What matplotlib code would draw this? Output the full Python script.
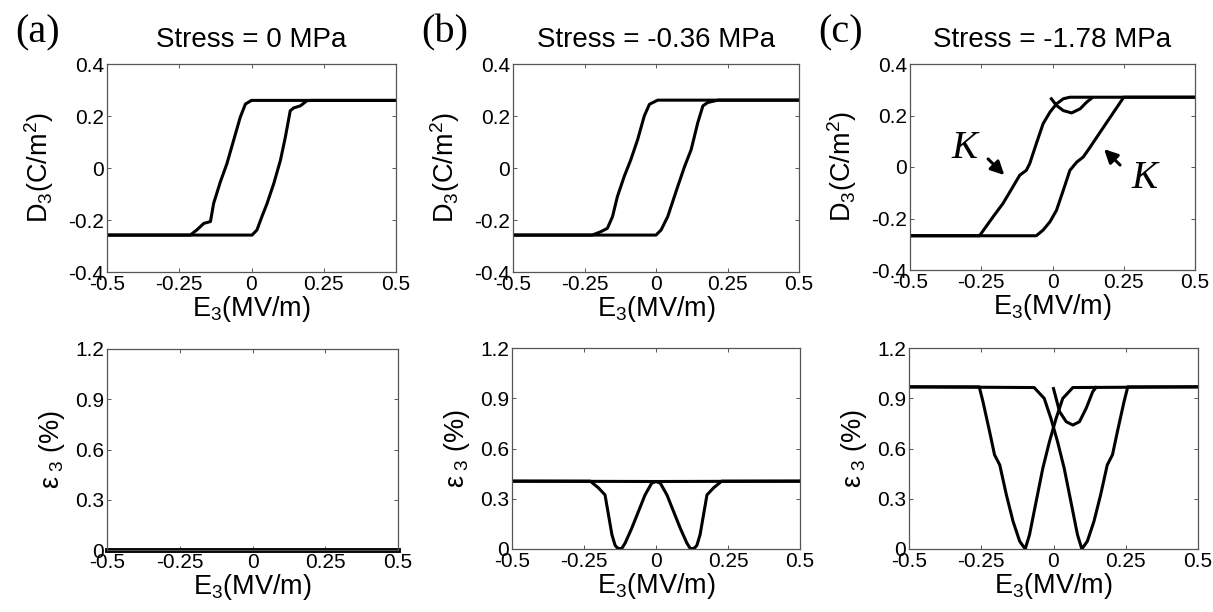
import matplotlib
matplotlib.use("Agg")
import matplotlib.pyplot as plt

plt.rcParams['font.family'] = ['Liberation Sans', 'DejaVu Sans']
plt.rcParams['mathtext.fontset'] = 'custom'
plt.rcParams['mathtext.rm'] = 'Liberation Sans'
plt.rcParams['mathtext.it'] = 'Liberation Sans:italic'

# ---------------- data ----------------
titles = ['Stress = 0 MPa', 'Stress = -0.36 MPa', 'Stress = -1.78 MPa']
panel_labels = ['(a)', '(b)', '(c)']
x_ticks = [-0.5, -0.25, 0, 0.25, 0.5]
x_tick_labels = ['-0.5', '-0.25', '0', '0.25', '0.5']
d_ticks = [-0.4, -0.2, 0, 0.2, 0.4]
d_tick_labels = ['-0.4', '-0.2', '0', '0.2', '0.4']
s_ticks = [0, 0.3, 0.6, 0.9, 1.2]
s_tick_labels = ['0', '0.3', '0.6', '0.9', '1.2']

# (a) D-E loop
a_desc_E = [0.5, 0.0, -0.021, -0.039, -0.062, -0.085, -0.108, -0.131, -0.142, -0.165, -0.189, -0.212, -0.5]
a_desc_D = [0.26, 0.26, 0.246, 0.195, 0.106, 0.017, -0.054, -0.136, -0.206, -0.213, -0.238, -0.258, -0.258]
a_asc_E = [-0.5, 0.002, 0.019, 0.036, 0.054, 0.077, 0.100, 0.117, 0.134, 0.146, 0.169, 0.192, 0.209, 0.5]
a_asc_D = [-0.258, -0.258, -0.238, -0.187, -0.136, -0.060, 0.029, 0.118, 0.220, 0.231, 0.239, 0.259, 0.26, 0.26]
# (a) strain
a_strain_E = [-0.5, 0.5]
a_strain_S = [0.0, 0.0]

# (b) D-E loop
b_desc_E = [0.5, 0.006, -0.023, -0.041, -0.064, -0.088, -0.111, -0.135, -0.152, -0.170, -0.193, -0.223, -0.5]
b_desc_D = [0.261, 0.261, 0.245, 0.200, 0.110, 0.032, -0.032, -0.110, -0.187, -0.232, -0.245, -0.258, -0.258]
b_asc_E = [-0.5, 0.0, 0.018, 0.041, 0.076, 0.100, 0.123, 0.146, 0.164, 0.181, 0.217, 0.5]
b_asc_D = [-0.258, -0.258, -0.238, -0.187, -0.071, 0.006, 0.071, 0.174, 0.239, 0.252, 0.261, 0.261]
# (b) strain
b_desc_SE = [0.5, 0.0, -0.015, -0.038, -0.061, -0.084, -0.107, -0.117, -0.125, -0.135, -0.142, -0.153, -0.165, -0.177, -0.200, -0.228, -0.5]
b_desc_S = [0.405, 0.403, 0.393, 0.323, 0.224, 0.125, 0.036, 0.008, 0.0, 0.008, 0.022, 0.085, 0.204, 0.323, 0.365, 0.405, 0.405]
b_asc_SE = [-0.5, 0.0, 0.015, 0.038, 0.061, 0.084, 0.107, 0.117, 0.125, 0.135, 0.142, 0.153, 0.165, 0.177, 0.200, 0.228, 0.5]
b_asc_S = [0.405, 0.403, 0.393, 0.323, 0.224, 0.125, 0.036, 0.008, 0.0, 0.008, 0.022, 0.085, 0.204, 0.323, 0.365, 0.405, 0.405]

# (c) D-E loop
c_desc_E = [0.5, 0.061, 0.038, 0.014, -0.009, -0.033, -0.057, -0.080, -0.092, -0.115, -0.139, -0.174, -0.209, -0.256, -0.5]
c_desc_D = [0.271, 0.271, 0.265, 0.245, 0.213, 0.168, 0.090, 0.013, -0.013, -0.032, -0.077, -0.142, -0.194, -0.267, -0.267]
c_asc_E = [-0.5, -0.057, -0.033, -0.009, 0.014, 0.038, 0.061, 0.085, 0.108, 0.132, 0.167, 0.203, 0.250, 0.5]
c_asc_D = [-0.267, -0.267, -0.245, -0.213, -0.168, -0.090, -0.013, 0.019, 0.039, 0.077, 0.135, 0.194, 0.271, 0.271]
c_init_E = [-0.004, 0.014, 0.038, 0.067, 0.097, 0.120, 0.138]
c_init_D = [0.265, 0.239, 0.219, 0.210, 0.226, 0.252, 0.268]
# (c) strain
c_desc_SE = [0.5, 0.067, 0.032, 0.009, -0.014, -0.037, -0.060, -0.083, -0.098, -0.117, -0.140, -0.163, -0.186, -0.204, -0.221, -0.244, -0.257, -0.5]
c_desc_S = [0.968, 0.964, 0.899, 0.780, 0.641, 0.482, 0.284, 0.085, 0.0, 0.046, 0.165, 0.323, 0.502, 0.562, 0.700, 0.879, 0.968, 0.968]
c_asc_SE = [-0.5, -0.067, -0.032, -0.009, 0.014, 0.037, 0.060, 0.083, 0.098, 0.117, 0.140, 0.163, 0.186, 0.204, 0.221, 0.244, 0.257, 0.5]
c_asc_S = [0.968, 0.964, 0.899, 0.780, 0.641, 0.482, 0.284, 0.085, 0.0, 0.046, 0.165, 0.323, 0.502, 0.562, 0.700, 0.879, 0.968, 0.968]
c_init_SE = [0.0, 0.021, 0.044, 0.067, 0.090, 0.113, 0.136, 0.147]
c_init_S = [0.958, 0.820, 0.760, 0.740, 0.760, 0.840, 0.940, 0.964]

# ---------------- layout ----------------
W, H = 1213, 612
fig = plt.figure(figsize=(W / 100, H / 100), dpi=100)

top_boxes = [(107, 396, 64, 272), (513, 799, 64, 272), (910, 1195, 64, 270)]
bot_boxes = [(107, 398, 349, 550), (512, 800, 348, 549), (909, 1198, 348, 549)]

def make_ax(box):
    l, r, t, b = box
    return fig.add_axes([l / W, 1 - b / H, (r - l) / W, (b - t) / H])

def style(ax, yticks, ylabels, ylim):
    ax.set_xlim(-0.5, 0.5)
    ax.set_ylim(*ylim)
    ax.set_xticks(x_ticks)
    ax.set_xticklabels(x_tick_labels)
    ax.set_yticks(yticks)
    ax.set_yticklabels(ylabels)
    ax.tick_params(direction='in', top=True, right=True, length=3, width=0.7,
                   labelsize=15, color='#555555', pad=2)
    for sp in ax.spines.values():
        sp.set_color('#555555')
        sp.set_linewidth(0.9)
    ax.set_xlabel(r'E$_3$(MV/m)', fontsize=19.5, labelpad=0)

lw = 2.2
col = 'black'

top_axes = [make_ax(b) for b in top_boxes]
bot_axes = [make_ax(b) for b in bot_boxes]

# top row
top_data = [
    [(a_desc_E, a_desc_D), (a_asc_E, a_asc_D)],
    [(b_desc_E, b_desc_D), (b_asc_E, b_asc_D)],
    [(c_desc_E, c_desc_D), (c_asc_E, c_asc_D), (c_init_E, c_init_D)],
]
for i, ax in enumerate(top_axes):
    for xs, ys in top_data[i]:
        ax.plot(xs, ys, color=col, lw=lw, solid_joinstyle='round')
    style(ax, d_ticks, d_tick_labels, (-0.4, 0.4))
    ax.set_ylabel(r'D$_3$(C/m$^2$)', fontsize=19.5, labelpad=9)
    ax.set_title(titles[i], fontsize=20, pad=12)
    l, r, t, b = top_boxes[i]
    fig.text((l - 92) / W, 1 - 33 / H, panel_labels[i], fontsize=29,
             family='Liberation Serif', ha='left', va='center')

# bottom row
bot_data = [
    [(a_strain_E, a_strain_S)],
    [(b_desc_SE, b_desc_S), (b_asc_SE, b_asc_S)],
    [(c_desc_SE, c_desc_S), (c_asc_SE, c_asc_S), (c_init_SE, c_init_S)],
]
for i, ax in enumerate(bot_axes):
    for xs, ys in bot_data[i]:
        ln, = ax.plot(xs, ys, color=col, lw=lw if i else 3.5, solid_joinstyle='round')
        if i == 0:
            ln.set_clip_on(False)
    style(ax, s_ticks, s_tick_labels, (0, 1.2))
    ax.set_ylabel('ε$_{\\ 3}$ (%)', fontsize=19.5, labelpad=6)

# K annotations in (c)
axc = top_axes[2]
axc.annotate('', xy=(-0.162, -0.039), xytext=(-0.233, 0.039),
             arrowprops=dict(arrowstyle='-|>', color='black', lw=2.2, mutation_scale=20))
axc.annotate('', xy=(0.174, 0.077), xytext=(0.244, 0.0),
             arrowprops=dict(arrowstyle='-|>', color='black', lw=2.2, mutation_scale=20))
axc.text(-0.309, 0.071, 'K', fontsize=28, family='Liberation Serif', style='italic',
         ha='center', va='center')
axc.text(0.321, -0.045, 'K', fontsize=28, family='Liberation Serif', style='italic',
         ha='center', va='center')

fig.savefig('out.png', dpi=100)
